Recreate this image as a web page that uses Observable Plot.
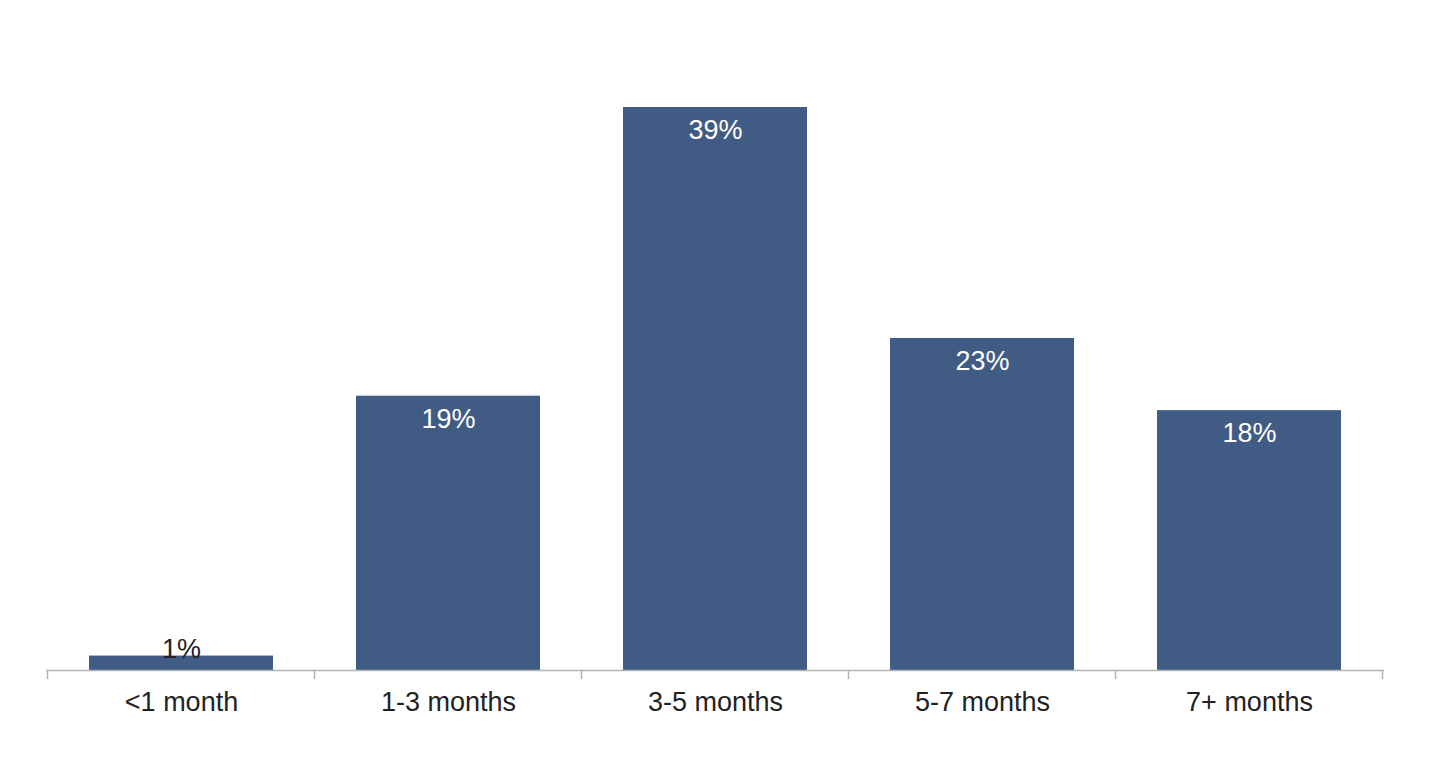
<!DOCTYPE html>
<html>
<head>
<meta charset="utf-8">
<script src="https://cdn.jsdelivr.net/npm/d3@7"></script>
<script src="https://cdn.jsdelivr.net/npm/@observablehq/plot@0.6"></script>
<style>
  html, body { margin: 0; padding: 0; background: #fff; }
  #chart svg { display: block; }
</style>
</head>
<body>
<div id="chart"></div>
<script>
const categories = ["<1 month", "1-3 months", "3-5 months", "5-7 months", "7+ months"];
const values = [1, 19, 39, 23, 18];
const labels = ["1%", "19%", "39%", "23%", "18%"];

const data = categories.map((c, i) => ({category: c, value: values[i], label: labels[i]}));

const barColor = "#405C84";
const axisColor = "#b4b4b4";
const textColor = "#222222";

function boundaryTicks(index, scales) {
  const x = scales.x, y = scales.y;
  const bw = typeof x.bandwidth === "function" ? x.bandwidth() : x.bandwidth;
  const centers = categories.map(c => x(c) + bw / 2);
  const step = centers[1] - centers[0];
  const bounds = [centers[0] - step / 2, ...centers.map(c => c + step / 2)];
  const y0 = y(0);
  const g = d3.create("svg:g");
  g.selectAll("line").data(bounds).join("line")
    .attr("x1", d => d).attr("x2", d => d)
    .attr("y1", y0).attr("y2", y0 + 9)
    .attr("stroke", axisColor).attr("stroke-width", 1.5);
  return g.node();
}

const chart = Plot.plot({
  width: 1442,
  height: 760,
  marginTop: 107,
  marginBottom: 90,
  marginLeft: 46,
  marginRight: 58,
  style: {fontFamily: "'Liberation Sans', Arial, sans-serif", color: textColor, background: "#fff"},
  x: {domain: categories, paddingInner: 0.31, paddingOuter: 0.155, label: null},
  y: {domain: [0, 39], axis: null},
  marks: [
    Plot.barY(data, {x: "category", y: "value", fill: barColor}),
    Plot.ruleY([0], {stroke: axisColor, strokeWidth: 1.5}),
    boundaryTicks,
    Plot.axisX({tickSize: 0, tickPadding: 21, fontSize: 27, fill: textColor, label: null}),
    Plot.text(data.filter(d => d.value >= 5), {x: "category", y: "value", text: "label", dy: 23, fill: "#ffffff", fontSize: 27}),
    Plot.text(data.filter(d => d.value < 5), {x: "category", y: "value", text: "label", dy: -7, fill: textColor, fontSize: 27})
  ]
});

document.getElementById("chart").appendChild(chart);
</script>
</body>
</html>
